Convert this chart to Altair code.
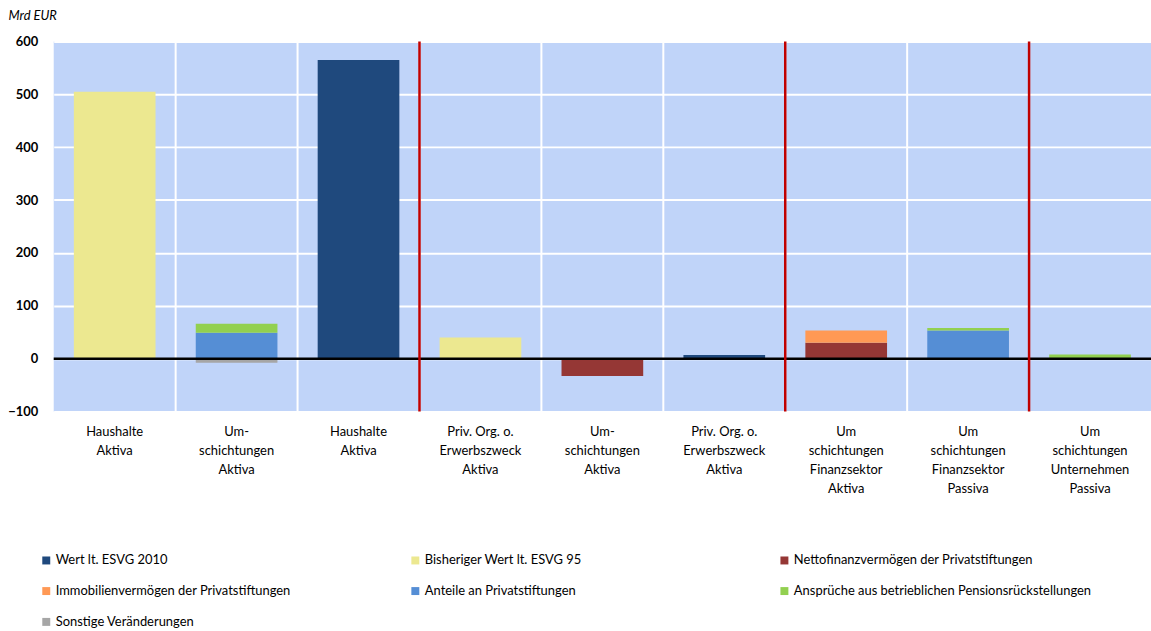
import json
import altair as alt
import pandas as pd

# ---- data ----
cats = ["c0", "c1", "c2", "c3", "c4", "c5", "c6", "c7", "c8"]
cat_labels = [
    ["Haushalte", "Aktiva"],
    ["Um-", "schichtungen", "Aktiva"],
    ["Haushalte", "Aktiva"],
    ["Priv. Org. o.", "Erwerbszweck", "Aktiva"],
    ["Um-", "schichtungen", "Aktiva"],
    ["Priv. Org. o.", "Erwerbszweck", "Aktiva"],
    ["Um", "schichtungen", "Finanzsektor", "Aktiva"],
    ["Um", "schichtungen", "Finanzsektor", "Passiva"],
    ["Um", "schichtungen", "Unternehmen", "Passiva"],
]
series = [
    "Wert lt. ESVG 2010",
    "Bisheriger Wert lt. ESVG 95",
    "Nettofinanzvermögen der Privatstiftungen",
    "Immobilienvermögen der Privatstiftungen",
    "Anteile an Privatstiftungen",
    "Ansprüche aus betrieblichen  Pensionsrückstellungen",
    "Sonstige Veränderungen",
]
colors = ["#1F497D", "#ECE890", "#953735", "#FF9955", "#558ED5", "#92D050", "#A6A6A6"]

esvg2010 = [0, 0, 565, 0, 0, 7, 0, 0, 0]
esvg95 = [505, 0, 0, 40, 0, 0, 0, 0, 0]
netto = [0, 0, 0, 0, -33, 0, 30, 0, 0]
immo = [0, 0, 0, 0, 0, 0, 23, 0, 0]
anteile = [0, 49, 0, 0, 0, 0, 0, 53, 0]
ansprueche = [0, 17, 0, 0, 0, 0, 0, 5, 8]
sonstige = [0, -8, 0, 0, 0, 0, 0, 0, 0]
values = [esvg2010, esvg95, netto, immo, anteile, ansprueche, sonstige]

separators = ["c3", "c6", "c8"]
y_ticks = [-100, 0, 100, 200, 300, 400, 500, 600]

# ---- build table ----
rows = []
for si, (s, vals) in enumerate(zip(series, values)):
    for c, v in zip(cats, vals):
        if v != 0:
            rows.append({"cat": c, "series": s, "value": v, "order": si})
df = pd.DataFrame(rows)

FONT = "Lato"
label_map = json.dumps(dict(zip(cats, cat_labels)))

x_scale = alt.Scale(domain=cats, paddingInner=0, paddingOuter=0)
y_scale = alt.Scale(domain=[-100, 600], nice=False)

bars = alt.Chart(df).mark_bar(width={"band": 0.67}).encode(
    x=alt.X(
        "cat:N",
        scale=x_scale,
        sort=cats,
        axis=alt.Axis(
            title=None,
            labelExpr=f"{label_map}[datum.value]",
            labelAngle=0,
            labelAlign="center",
            labelFont=FONT,
            labelFontSize=13,
            labelColor="#000000",
            labelLineHeight=19,
            labelPadding=14,
            labelBaseline="top",
            domain=False,
            ticks=False,
            grid=False,
        ),
    ),
    y=alt.Y(
        "value:Q",
        scale=y_scale,
        stack="zero",
        axis=alt.Axis(
            values=y_ticks,
            title="Mrd EUR",
            titleAngle=0,
            titleAlign="left",
            titleBaseline="middle",
            titleX=-46,
            titleY=-26,
            titleFont=FONT,
            titleFontStyle="italic",
            titleFontWeight="normal",
            titleFontSize=13,
            titleColor="#000000",
            labelFont=FONT,
            labelFontSize=13,
            labelFontWeight="bold",
            labelColor="#000000",
            labelPadding=16,
            domain=False,
            ticks=False,
            grid=True,
            gridColor="#FFFFFF",
            gridWidth=2,
        ),
    ),
    color=alt.Color(
        "series:N",
        scale=alt.Scale(domain=series, range=colors),
        sort=series,
        legend=alt.Legend(
            title=None,
            orient="none",
            direction="horizontal",
            legendX=-14,
            legendY=515,
            columns=3,
            gridAlign="all",
            columnPadding=52,
            rowPadding=17,
            symbolType="square",
            symbolSize=64,
            symbolStrokeWidth=0,
            labelFont=FONT,
            labelFontSize=13,
            labelColor="#000000",
            labelOffset=3,
            labelLimit=400,
        ),
    ),
    order=alt.Order("order:Q"),
)

grid_v = alt.Chart(pd.DataFrame({"cat": cats[1:]})).mark_rule(
    color="#FFFFFF", strokeWidth=2
).encode(x=alt.X("cat:N", scale=x_scale, sort=cats, bandPosition=0))

zero = alt.Chart(pd.DataFrame({"y": [0]})).mark_rule(
    color="#000000", strokeWidth=2.5
).encode(y=alt.Y("y:Q", scale=y_scale))

red = alt.Chart(pd.DataFrame({"cat": separators})).mark_rule(
    color="#C00000", strokeWidth=2.5
).encode(x=alt.X("cat:N", scale=x_scale, sort=cats, bandPosition=0))

chart = (
    alt.layer(grid_v, bars, zero, red)
    .properties(
        width=1103,
        height=372,
        autosize=alt.AutoSizeParams(type="none"),
        padding={"left": 54, "top": 40, "right": 0, "bottom": 219},
        background="#FFFFFF",
    )
    .configure_view(fill="#C0D4F9", stroke=None)
)

chart.save("out.html", embed_options={"renderer": "svg", "actions": False})
